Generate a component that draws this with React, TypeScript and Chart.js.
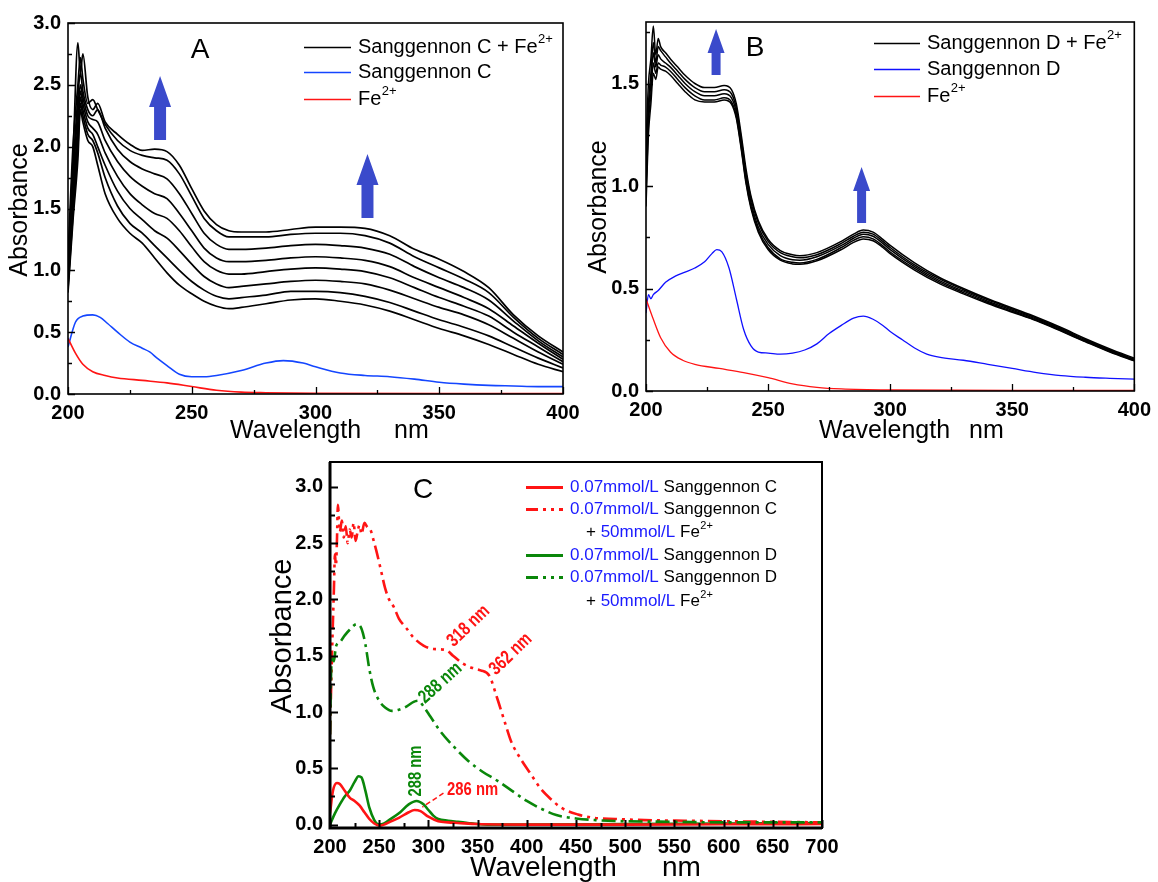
import React, { useEffect, useRef } from 'react';
import { Chart, registerables } from 'chart.js';

Chart.register(...registerables);

const W = 1158;
const H = 882;
const SANS = "'Liberation Sans', Arial, Helvetica, sans-serif";
const ARROW = '#3a4acb';
const BLUE_TXT = '#1a1aff';
const RED = '#ff1414';
const GREEN = '#0a870a';
const BLUE = '#1446ff';

// ---------------- Panel A ----------------
const wlA = [200, 202, 204, 205, 206, 208, 210, 212, 215, 220, 225, 230, 235, 240, 245, 250, 255, 260, 265, 270, 280, 290, 300, 310, 320, 330, 340, 350, 360, 370, 380, 390, 400];
const scFeA8 = [1.05, 1.9, 2.84, 2.6, 2.75, 2.4, 2.3, 2.35, 2.2, 2.1, 2.02, 1.97, 1.98, 1.96, 1.85, 1.66, 1.48, 1.37, 1.32, 1.31, 1.31, 1.33, 1.35, 1.35, 1.34, 1.28, 1.17, 1.09, 0.99, 0.86, 0.64, 0.47, 0.34];
const scFeA7 = [1.1, 2.0, 2.5, 2.72, 2.55, 2.35, 2.38, 2.3, 2.18, 2.05, 1.97, 1.93, 1.91, 1.89, 1.78, 1.6, 1.42, 1.32, 1.27, 1.27, 1.27, 1.29, 1.3, 1.3, 1.28, 1.22, 1.11, 1.02, 0.93, 0.82, 0.62, 0.45, 0.32];
const scFeA6 = [1.0, 1.8, 2.4, 2.6, 2.45, 2.3, 2.25, 2.3, 2.15, 1.98, 1.88, 1.82, 1.78, 1.74, 1.62, 1.46, 1.3, 1.21, 1.17, 1.17, 1.18, 1.2, 1.21, 1.2, 1.18, 1.13, 1.03, 0.94, 0.86, 0.76, 0.59, 0.43, 0.3];
const scFeA5 = [0.95, 1.7, 2.3, 2.5, 2.4, 2.25, 2.22, 2.2, 2.05, 1.88, 1.76, 1.68, 1.62, 1.58, 1.46, 1.32, 1.18, 1.1, 1.07, 1.07, 1.08, 1.1, 1.11, 1.1, 1.08, 1.03, 0.94, 0.86, 0.78, 0.69, 0.55, 0.41, 0.28];
const scFeA4 = [0.9, 1.6, 2.2, 2.45, 2.35, 2.2, 2.15, 2.1, 1.95, 1.76, 1.62, 1.53, 1.46, 1.42, 1.32, 1.19, 1.07, 1.0, 0.97, 0.97, 0.99, 1.01, 1.02, 1.01, 0.99, 0.94, 0.86, 0.78, 0.71, 0.63, 0.5, 0.38, 0.26];
const scFeA3 = [0.88, 1.5, 2.1, 2.4, 2.3, 2.15, 2.1, 2.0, 1.85, 1.64, 1.5, 1.41, 1.32, 1.26, 1.16, 1.05, 0.95, 0.89, 0.86, 0.87, 0.89, 0.91, 0.92, 0.91, 0.89, 0.84, 0.77, 0.7, 0.64, 0.56, 0.45, 0.34, 0.24];
const scFeA2 = [0.85, 1.45, 2.0, 2.35, 2.25, 2.1, 2.05, 1.95, 1.75, 1.52, 1.38, 1.3, 1.2, 1.1, 1.0, 0.91, 0.84, 0.79, 0.77, 0.78, 0.8, 0.83, 0.83, 0.82, 0.79, 0.74, 0.67, 0.6, 0.54, 0.47, 0.38, 0.29, 0.21];
const scFeA1 = [0.82, 1.4, 1.9, 2.3, 2.2, 2.05, 2.0, 1.85, 1.62, 1.42, 1.3, 1.22, 1.1, 0.98, 0.88, 0.81, 0.75, 0.71, 0.69, 0.7, 0.73, 0.76, 0.77, 0.75, 0.72, 0.67, 0.6, 0.53, 0.47, 0.4, 0.32, 0.24, 0.18];

const wlBlueA = [200, 203, 206, 210, 213, 216, 220, 225, 230, 233, 236, 240, 245, 250, 255, 260, 270, 280, 287, 295, 300, 310, 320, 330, 340, 350, 360, 370, 380, 390, 400];
const scA = [0.38, 0.58, 0.63, 0.64, 0.62, 0.57, 0.5, 0.42, 0.37, 0.34, 0.29, 0.23, 0.16, 0.14, 0.14, 0.15, 0.19, 0.25, 0.27, 0.25, 0.22, 0.17, 0.15, 0.14, 0.12, 0.095, 0.08, 0.07, 0.065, 0.06, 0.06];

const wlRedA = [200, 203, 206, 210, 215, 220, 230, 240, 250, 260, 270, 280, 300, 350, 400];
const feA = [0.45, 0.33, 0.24, 0.18, 0.15, 0.13, 0.11, 0.09, 0.06, 0.03, 0.015, 0.01, 0.005, 0.003, 0.003];

// ---------------- Panel B ----------------
const wlB = [200, 201, 202, 203, 204, 205, 206, 208, 210, 213, 216, 220, 224, 228, 232, 235, 237, 239, 241, 243, 246, 250, 255, 260, 263, 270, 280, 285, 289, 293, 297, 300, 310, 320, 330, 340, 350, 360, 370, 380, 390, 400];
const sdFeB5 = [1.2, 1.5, 1.62, 1.78, 1.64, 1.72, 1.68, 1.65, 1.62, 1.58, 1.54, 1.5, 1.48, 1.48, 1.49, 1.47, 1.4, 1.25, 1.08, 0.95, 0.83, 0.74, 0.685, 0.665, 0.66, 0.675, 0.73, 0.765, 0.785, 0.775, 0.74, 0.71, 0.625, 0.555, 0.5, 0.45, 0.405, 0.36, 0.31, 0.255, 0.205, 0.16];
const sdFeB4 = [1.1, 1.4, 1.55, 1.7, 1.6, 1.68, 1.66, 1.63, 1.6, 1.56, 1.52, 1.48, 1.46, 1.46, 1.47, 1.45, 1.38, 1.23, 1.06, 0.94, 0.82, 0.73, 0.675, 0.655, 0.65, 0.665, 0.72, 0.755, 0.775, 0.765, 0.73, 0.7, 0.615, 0.548, 0.494, 0.445, 0.4, 0.355, 0.305, 0.25, 0.2, 0.155];
const sdFeB3 = [1.0, 1.35, 1.5, 1.65, 1.58, 1.64, 1.62, 1.6, 1.58, 1.54, 1.5, 1.46, 1.44, 1.44, 1.45, 1.43, 1.36, 1.21, 1.04, 0.92, 0.8, 0.715, 0.66, 0.64, 0.638, 0.655, 0.71, 0.745, 0.765, 0.755, 0.72, 0.69, 0.607, 0.54, 0.487, 0.438, 0.394, 0.35, 0.3, 0.246, 0.197, 0.152];
const sdFeB2 = [0.95, 1.3, 1.45, 1.6, 1.55, 1.6, 1.59, 1.58, 1.56, 1.52, 1.48, 1.44, 1.42, 1.42, 1.43, 1.41, 1.34, 1.19, 1.02, 0.9, 0.785, 0.7, 0.645, 0.628, 0.625, 0.642, 0.7, 0.735, 0.752, 0.742, 0.708, 0.678, 0.598, 0.532, 0.48, 0.432, 0.388, 0.345, 0.295, 0.242, 0.193, 0.149];
const sdFeB1 = [0.9, 1.25, 1.4, 1.55, 1.52, 1.58, 1.57, 1.56, 1.54, 1.5, 1.46, 1.42, 1.41, 1.41, 1.42, 1.4, 1.33, 1.18, 1.01, 0.89, 0.775, 0.69, 0.638, 0.62, 0.618, 0.635, 0.69, 0.725, 0.742, 0.733, 0.7, 0.67, 0.59, 0.525, 0.474, 0.427, 0.384, 0.342, 0.292, 0.24, 0.19, 0.147];

const wlBlueB = [200, 201, 202, 203, 205, 208, 212, 216, 220, 224, 227, 229, 231, 234, 237, 240, 243, 246, 250, 255, 260, 265, 270, 275, 280, 285, 289, 293, 297, 300, 305, 310, 315, 320, 330, 340, 350, 360, 370, 380, 390, 400];
const sdB = [0.38, 0.47, 0.45, 0.47, 0.49, 0.53, 0.56, 0.58, 0.6, 0.63, 0.67, 0.69, 0.68, 0.6, 0.45, 0.3, 0.22, 0.19, 0.185, 0.18, 0.185, 0.2, 0.23, 0.28, 0.32, 0.355, 0.365, 0.35, 0.32, 0.29, 0.25, 0.21, 0.18, 0.165, 0.15, 0.13, 0.11, 0.09, 0.075, 0.067, 0.062, 0.058];

const wlRedB = [200, 203, 206, 210, 215, 220, 230, 240, 250, 260, 270, 280, 300, 350, 400];
const feB = [0.45, 0.35, 0.26, 0.19, 0.15, 0.13, 0.11, 0.09, 0.065, 0.035, 0.018, 0.01, 0.005, 0.003, 0.003];

// ---------------- Panel C ----------------
const wlCsc = [200, 203, 207, 210, 215, 220, 225, 230, 235, 240, 245, 250, 255, 260, 270, 280, 286, 292, 300, 310, 320, 330, 350, 400, 500, 600, 700];
const scC = [0.1, 0.3, 0.37, 0.36, 0.3, 0.24, 0.21, 0.17, 0.11, 0.05, 0.01, -0.01, 0.0, 0.02, 0.06, 0.11, 0.13, 0.12, 0.07, 0.03, 0.02, 0.015, 0.005, 0.0, 0.0, 0.003, 0.005];

const wlCsd = [200, 205, 210, 215, 220, 225, 229, 232, 236, 240, 245, 250, 255, 260, 270, 280, 288, 295, 300, 305, 310, 320, 330, 340, 350, 360, 400, 500, 600, 700];
const sdC = [0.0, 0.1, 0.18, 0.25, 0.3, 0.38, 0.43, 0.42, 0.3, 0.15, 0.04, 0.0, 0.01, 0.04, 0.1, 0.18, 0.21, 0.18, 0.13, 0.08, 0.05, 0.035, 0.025, 0.015, 0.005, 0.0, 0.0, 0.005, 0.01, 0.015];

const wlCscFe = [200, 202, 204, 205, 206, 207, 208, 210, 212, 214, 216, 218, 220, 222, 224, 226, 228, 230, 232, 235, 238, 241, 245, 248, 252, 256, 260, 265, 270, 278, 285, 295, 305, 318, 325, 335, 345, 353, 362, 370, 378, 384, 394, 404, 414, 424, 435, 452, 468, 490, 520, 560, 600, 650, 700];
const scFeC = [0.8, 1.5, 2.1, 2.4, 2.3, 2.5, 2.84, 2.6, 2.7, 2.55, 2.65, 2.5, 2.62, 2.55, 2.68, 2.52, 2.6, 2.66, 2.58, 2.68, 2.64, 2.62, 2.5, 2.4, 2.25, 2.1, 2.0, 1.93, 1.83, 1.74, 1.66, 1.59, 1.56, 1.55, 1.5, 1.43, 1.39, 1.37, 1.32, 1.12, 0.9, 0.74, 0.58, 0.45, 0.32, 0.23, 0.15, 0.09, 0.06, 0.05, 0.04, 0.035, 0.03, 0.025, 0.02];

const wlCsdFe = [200, 201, 202, 204, 206, 210, 215, 220, 227, 232, 236, 240, 244, 250, 256, 263, 270, 278, 285, 290, 295, 302, 312, 325, 340, 355, 370, 385, 400, 415, 430, 450, 470, 500, 550, 600, 650, 700];
const sdFeC = [0.8, 1.3, 1.5, 1.45, 1.58, 1.62, 1.68, 1.73, 1.78, 1.74, 1.6, 1.38, 1.22, 1.1, 1.04, 1.01, 1.02, 1.05, 1.09, 1.1, 1.05, 0.96, 0.83, 0.7, 0.57, 0.47, 0.39, 0.3, 0.21, 0.14, 0.085, 0.055, 0.04, 0.03, 0.025, 0.02, 0.02, 0.02];

// ---------------- helpers ----------------
type Pt = { x: number; y: number };
const pts = (xs: number[], ys: number[]): Pt[] => xs.map((x, i) => ({ x, y: ys[i] }));

interface Seg { t: string; c?: string; sup?: boolean }
interface LegRow { y: number; x?: number; line?: { color: string; width: number; dash?: number[] }; segs: Seg[] }
interface Deco {
  frameW: number;
  axisW: number;
  tick: { w: number; major: number; minor: number; xMin: number; xMax: number; xMajor: number; xMinor: number; yMin: number; yMax: number; yMajor: number; yMinor: number };
  letter: { t: string; x: number; y: number; size: number };
  yTitle: { t: string; x: number; y: number; size: number };
  xTitle: { y: number; size: number; parts: { t: string; x: number }[] };
  legend: { x1: number; x2: number; tx: number; size: number; sup: number; rows: LegRow[] };
  arrows: { x: number; top: number; bottom: number; hw: number; hh: number; sw: number }[];
  notes: { t: string; c: string; x: number; y: number; rot: number; size: number }[];
  leaders: { c: string; x1: number; y1: number; x2: number; y2: number }[];
}

function drawSegs(ctx: CanvasRenderingContext2D, segs: Seg[], x: number, y: number, size: number, sup: number) {
  let cx = x;
  for (const s of segs) {
    ctx.fillStyle = s.c || '#000';
    if (s.sup) {
      ctx.font = `${sup}px ${SANS}`;
      ctx.fillText(s.t, cx + 0.5, y - size * 0.36);
    } else {
      ctx.font = `${size}px ${SANS}`;
      ctx.fillText(s.t, cx, y);
    }
    cx += ctx.measureText(s.t).width + (s.sup ? 0.5 : 0);
  }
}

function makeDeco(d: Deco) {
  return {
    id: 'deco' + d.letter.t,
    afterDraw(chart: any) {
      const ctx: CanvasRenderingContext2D = chart.ctx;
      const { left, top, right, bottom } = chart.chartArea;
      const xs = chart.scales.x;
      const ys = chart.scales.y;
      ctx.save();
      ctx.strokeStyle = '#000';
      ctx.setLineDash([]);
      // ticks (inward)
      const t = d.tick;
      ctx.lineWidth = t.w;
      ctx.beginPath();
      const nx = Math.round((t.xMax - t.xMin) / t.xMinor);
      for (let i = 0; i <= nx; i++) {
        const v = t.xMin + i * t.xMinor;
        const px = Math.round(xs.getPixelForValue(v)) + 0.5;
        const isMajor = Math.abs(v / t.xMajor - Math.round(v / t.xMajor)) < 1e-6;
        ctx.moveTo(px, bottom);
        ctx.lineTo(px, bottom - (isMajor ? t.major : t.minor));
      }
      const ny = Math.round((t.yMax - t.yMin) / t.yMinor);
      for (let i = 0; i <= ny; i++) {
        const v = t.yMin + i * t.yMinor;
        const py = Math.round(ys.getPixelForValue(v)) + 0.5;
        const isMajor = Math.abs(v / t.yMajor - Math.round(v / t.yMajor)) < 1e-6;
        ctx.moveTo(left, py);
        ctx.lineTo(left + (isMajor ? t.major : t.minor), py);
      }
      ctx.stroke();
      // frame
      ctx.lineWidth = d.frameW;
      ctx.strokeRect(left, top, right - left, bottom - top);
      if (d.axisW > d.frameW) {
        ctx.lineWidth = d.axisW;
        ctx.beginPath();
        ctx.moveTo(left, top);
        ctx.lineTo(left, bottom);
        ctx.lineTo(right, bottom);
        ctx.stroke();
      }
      // titles
      ctx.fillStyle = '#000';
      ctx.textBaseline = 'middle';
      ctx.textAlign = 'center';
      ctx.font = `${d.letter.size}px ${SANS}`;
      ctx.fillText(d.letter.t, d.letter.x, d.letter.y);
      ctx.save();
      ctx.translate(d.yTitle.x, d.yTitle.y);
      ctx.rotate(-Math.PI / 2);
      ctx.font = `${d.yTitle.size}px ${SANS}`;
      ctx.fillText(d.yTitle.t, 0, 0);
      ctx.restore();
      ctx.textAlign = 'left';
      ctx.font = `${d.xTitle.size}px ${SANS}`;
      for (const p of d.xTitle.parts) ctx.fillText(p.t, p.x, d.xTitle.y);
      // legend
      const L = d.legend;
      for (const r of L.rows) {
        if (r.line) {
          ctx.strokeStyle = r.line.color;
          ctx.lineWidth = r.line.width;
          ctx.setLineDash(r.line.dash || []);
          ctx.beginPath();
          ctx.moveTo(L.x1, r.y + 0.5);
          ctx.lineTo(L.x2, r.y + 0.5);
          ctx.stroke();
          ctx.setLineDash([]);
        }
        drawSegs(ctx, r.segs, r.x ?? L.tx, r.y, L.size, L.sup);
      }
      // arrows
      ctx.fillStyle = ARROW;
      for (const a of d.arrows) {
        const cx = xs.getPixelForValue(a.x);
        const ty = ys.getPixelForValue(a.top);
        const by = ys.getPixelForValue(a.bottom);
        ctx.beginPath();
        ctx.moveTo(cx, ty);
        ctx.lineTo(cx + a.hw / 2, ty + a.hh);
        ctx.lineTo(cx + a.sw / 2, ty + a.hh);
        ctx.lineTo(cx + a.sw / 2, by);
        ctx.lineTo(cx - a.sw / 2, by);
        ctx.lineTo(cx - a.sw / 2, ty + a.hh);
        ctx.lineTo(cx - a.hw / 2, ty + a.hh);
        ctx.closePath();
        ctx.fill();
      }
      // leaders
      for (const l of d.leaders) {
        ctx.strokeStyle = l.c;
        ctx.lineWidth = 1.5;
        ctx.setLineDash([5, 3]);
        ctx.beginPath();
        ctx.moveTo(xs.getPixelForValue(l.x1), ys.getPixelForValue(l.y1));
        ctx.lineTo(xs.getPixelForValue(l.x2), ys.getPixelForValue(l.y2));
        ctx.stroke();
        ctx.setLineDash([]);
      }
      // notes (condensed bold)
      ctx.textAlign = 'center';
      ctx.textBaseline = 'middle';
      for (const n of d.notes) {
        ctx.save();
        ctx.translate(xs.getPixelForValue(n.x), ys.getPixelForValue(n.y));
        ctx.rotate((n.rot * Math.PI) / 180);
        ctx.scale(0.78, 1);
        ctx.font = `bold ${n.size}px ${SANS}`;
        ctx.fillStyle = n.c;
        ctx.fillText(n.t, 0, 0);
        ctx.restore();
      }
      ctx.restore();
    },
  };
}

interface Panel {
  plot: { l: number; t: number; r: number; b: number };
  x: [number, number, number];
  y: [number, number, number];
  tickSize: number;
  datasets: any[];
  deco: Deco;
}

const YW = 66;
const XH = 44;

function buildConfig(p: Panel): any {
  const tickFont = { family: SANS, size: p.tickSize, weight: 'bold' as const };
  return {
    type: 'line',
    data: { datasets: p.datasets },
    options: {
      responsive: false,
      animation: false,
      devicePixelRatio: 1,
      events: [],
      layout: { padding: { left: p.plot.l - YW, top: p.plot.t, right: W - p.plot.r, bottom: H - p.plot.b - XH } },
      plugins: { legend: { display: false }, tooltip: { enabled: false } },
      elements: { point: { radius: 0 }, line: { cubicInterpolationMode: 'monotone' } },
      scales: {
        x: {
          type: 'linear',
          min: p.x[0],
          max: p.x[1],
          afterFit: (s: any) => { s.height = XH; },
          grid: { display: false, drawTicks: false },
          border: { display: false },
          ticks: { stepSize: p.x[2], autoSkip: false, maxRotation: 0, minRotation: 0, padding: 7, includeBounds: false, font: tickFont, color: '#000', callback: (v: any) => String(v) },
        },
        y: {
          type: 'linear',
          min: p.y[0],
          max: p.y[1],
          afterFit: (s: any) => { s.width = YW; },
          grid: { display: false, drawTicks: false },
          border: { display: false },
          ticks: { stepSize: p.y[2], autoSkip: false, padding: 7, includeBounds: false, font: tickFont, color: '#000', callback: (v: any) => Number(v).toFixed(1) },
        },
      },
    },
    plugins: [makeDeco(p.deco)],
  };
}

const line = (data: Pt[], color: string, width: number, dash?: number[]) => ({
  data,
  borderColor: color,
  borderWidth: width,
  borderDash: dash || [],
  pointRadius: 0,
  fill: false,
});

const sup = (t: string): Seg => ({ t, sup: true });

const panelA: Panel = {
  plot: { l: 68, t: 23, r: 563, b: 394 },
  x: [200, 400, 50],
  y: [0, 3, 0.5],
  tickSize: 20,
  datasets: [
    line(pts(wlRedA, feA), RED, 1.6),
    line(pts(wlBlueA, scA), BLUE, 1.6),
    ...[scFeA1, scFeA2, scFeA3, scFeA4, scFeA5, scFeA6, scFeA7, scFeA8].map((ys) => line(pts(wlA, ys), '#000', 1.7)),
  ],
  deco: {
    frameW: 1.6,
    axisW: 1.6,
    tick: { w: 1.3, major: 7, minor: 4, xMin: 200, xMax: 400, xMajor: 50, xMinor: 25, yMin: 0, yMax: 3, yMajor: 0.5, yMinor: 0.25 },
    letter: { t: 'A', x: 200, y: 50, size: 28 },
    yTitle: { t: 'Absorbance', x: 20, y: 210, size: 25 },
    xTitle: { y: 431, size: 25, parts: [{ t: 'Wavelength', x: 230 }, { t: 'nm', x: 394 }] },
    legend: {
      x1: 304, x2: 351, tx: 358, size: 20, sup: 13,
      rows: [
        { y: 47, line: { color: '#000', width: 1.6 }, segs: [{ t: 'Sanggennon C + Fe' }, sup('2+')] },
        { y: 72, line: { color: BLUE, width: 1.6 }, segs: [{ t: 'Sanggennon C' }] },
        { y: 99, line: { color: RED, width: 1.6 }, segs: [{ t: 'Fe' }, sup('2+')] },
      ],
    },
    arrows: [
      { x: 237.2, top: 2.571, bottom: 2.054, hw: 22, hh: 31, sw: 12 },
      { x: 321, top: 1.941, bottom: 1.423, hw: 22, hh: 31, sw: 12 },
    ],
    notes: [],
    leaders: [],
  },
};

const panelB: Panel = {
  plot: { l: 646, t: 22, r: 1140, b: 391 },
  x: [200, 400, 50],
  y: [0, 1.8, 0.5],
  tickSize: 20,
  datasets: [
    line(pts(wlRedB, feB), RED, 1.3),
    line(pts(wlBlueB, sdB), '#1010ff', 1.3),
    ...[sdFeB1, sdFeB2, sdFeB3, sdFeB4, sdFeB5].map((ys) => line(pts(wlB, ys), '#000', 1.5)),
  ],
  deco: {
    frameW: 1.6,
    axisW: 1.6,
    tick: { w: 1.3, major: 7, minor: 4, xMin: 200, xMax: 400, xMajor: 50, xMinor: 25, yMin: 0, yMax: 1.75, yMajor: 0.5, yMinor: 0.25 },
    letter: { t: 'B', x: 755, y: 48, size: 28 },
    yTitle: { t: 'Absorbance', x: 599, y: 207, size: 25 },
    xTitle: { y: 431, size: 25, parts: [{ t: 'Wavelength', x: 819 }, { t: 'nm', x: 969 }] },
    legend: {
      x1: 874, x2: 920, tx: 927, size: 20, sup: 13,
      rows: [
        { y: 43, line: { color: '#000', width: 1.3 }, segs: [{ t: 'Sanggennon D + Fe' }, sup('2+')] },
        { y: 69, line: { color: '#1010ff', width: 1.3 }, segs: [{ t: 'Sanggennon D' }] },
        { y: 96, line: { color: RED, width: 1.3 }, segs: [{ t: 'Fe' }, sup('2+')] },
      ],
    },
    arrows: [
      { x: 228.7, top: 1.766, bottom: 1.541, hw: 17, hh: 24, sw: 9 },
      { x: 288.3, top: 1.093, bottom: 0.82, hw: 17, hh: 24, sw: 9 },
    ],
    notes: [],
    leaders: [],
  },
};

const DASH_C = [14, 5, 3, 5, 3, 5];
const DASH_D = [14, 5, 3, 5];

const panelC: Panel = {
  plot: { l: 330, t: 462, r: 822, b: 828 },
  x: [200, 700, 50],
  y: [-0.03, 3.22, 0.5],
  tickSize: 20,
  datasets: [
    line(pts(wlCsdFe, sdFeC), GREEN, 2.6, DASH_D),
    line(pts(wlCscFe, scFeC), RED, 2.6, DASH_C),
    line(pts(wlCsc, scC), RED, 2.6),
    line(pts(wlCsd, sdC), GREEN, 2.6),
  ],
  deco: {
    frameW: 2,
    axisW: 3,
    tick: { w: 2, major: 8, minor: 5, xMin: 200, xMax: 700, xMajor: 50, xMinor: 25, yMin: 0, yMax: 3, yMajor: 0.5, yMinor: 0.25 },
    letter: { t: 'C', x: 423, y: 490, size: 28 },
    yTitle: { t: 'Absorbance', x: 283, y: 636, size: 29 },
    xTitle: { y: 868, size: 28, parts: [{ t: 'Wavelength', x: 470 }, { t: 'nm', x: 662 }] },
    legend: {
      x1: 526, x2: 563, tx: 570, size: 17, sup: 11,
      rows: [
        { y: 487, line: { color: RED, width: 3 }, segs: [{ t: '0.07mmol/L', c: BLUE_TXT }, { t: ' Sanggennon C' }] },
        { y: 509, line: { color: RED, width: 3, dash: [12, 5, 3, 5, 3, 5] }, segs: [{ t: '0.07mmol/L', c: BLUE_TXT }, { t: ' Sanggennon C' }] },
        { y: 532, x: 586, segs: [{ t: '+ ' }, { t: '50mmol/L', c: BLUE_TXT }, { t: ' Fe' }, sup('2+')] },
        { y: 555, line: { color: GREEN, width: 3 }, segs: [{ t: '0.07mmol/L', c: BLUE_TXT }, { t: ' Sanggennon D' }] },
        { y: 577, line: { color: GREEN, width: 3, dash: [12, 5, 3, 5, 3, 5] }, segs: [{ t: '0.07mmol/L', c: BLUE_TXT }, { t: ' Sanggennon D' }] },
        { y: 601, x: 586, segs: [{ t: '+ ' }, { t: '50mmol/L', c: BLUE_TXT }, { t: ' Fe' }, sup('2+')] },
      ],
    },
    arrows: [],
    notes: [
      { t: '318 nm', c: RED, x: 340.8, y: 1.764, rot: -44, size: 19 },
      { t: '362 nm', c: RED, x: 383.7, y: 1.514, rot: -44, size: 19 },
      { t: '288 nm', c: GREEN, x: 312.2, y: 1.258, rot: -42, size: 19 },
      { t: '288 nm', c: GREEN, x: 286.7, y: 0.476, rot: -90, size: 19 },
      { t: '286 nm', c: RED, x: 344.9, y: 0.308, rot: 0, size: 19 },
    ],
    leaders: [{ c: RED, x1: 315.3, y1: 0.28, x2: 293.9, y2: 0.156 }],
  },
};

export default function App() {
  const refA = useRef<HTMLCanvasElement>(null);
  const refB = useRef<HTMLCanvasElement>(null);
  const refC = useRef<HTMLCanvasElement>(null);

  useEffect(() => {
    Chart.defaults.font.family = SANS;
    const charts: Chart[] = [];
    const pairs: [React.RefObject<HTMLCanvasElement>, Panel][] = [[refA, panelA], [refB, panelB], [refC, panelC]];
    for (const [ref, p] of pairs) {
      if (ref.current) charts.push(new Chart(ref.current, buildConfig(p)));
    }
    return () => charts.forEach((c) => c.destroy());
  }, []);

  const cs: React.CSSProperties = { position: 'absolute', left: 0, top: 0, width: W, height: H };
  return (
    <div style={{ position: 'fixed', left: 0, top: 0, width: W, height: H, background: '#fff', overflow: 'hidden' }}>
      <canvas ref={refA} width={W} height={H} style={cs} />
      <canvas ref={refB} width={W} height={H} style={cs} />
      <canvas ref={refC} width={W} height={H} style={cs} />
    </div>
  );
}
